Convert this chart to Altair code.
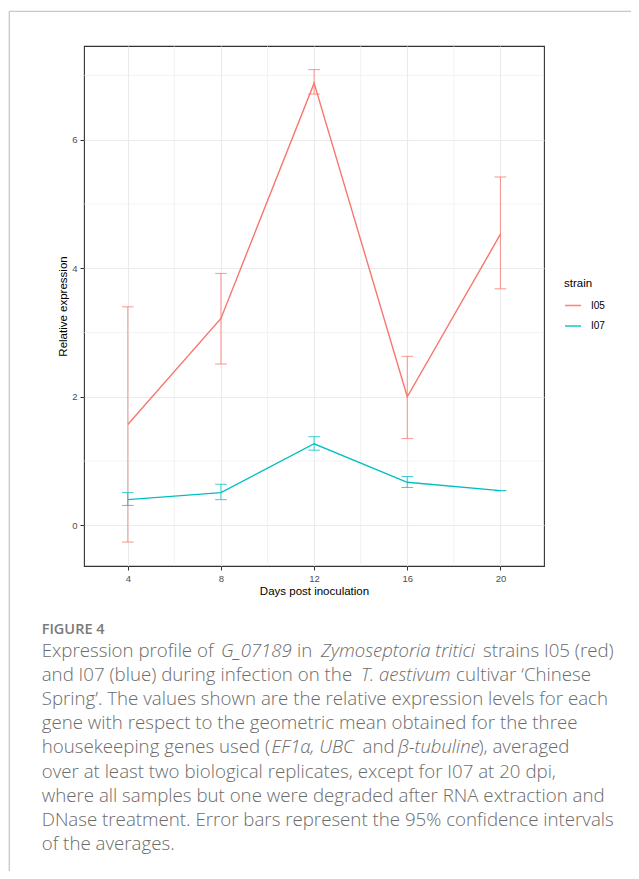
import altair as alt
import pandas as pd

# ---------------- data ----------------
days = [4, 8, 12, 16, 20]
strains = ["I05", "I07"]
i05_mean = [1.57, 3.22, 6.88, 2.00, 4.53]
i05_lo = [-0.26, 2.51, 6.71, 1.35, 3.68]
i05_hi = [3.40, 3.92, 7.09, 2.63, 5.42]
i07_mean = [0.40, 0.51, 1.27, 0.67, 0.54]
i07_lo = [0.31, 0.40, 1.17, 0.59, 0.54]
i07_hi = [0.51, 0.64, 1.38, 0.76, 0.54]
colors = ["#F8766D", "#00BFC4"]

x_major = [4, 8, 12, 16, 20]
x_minor = [6, 10, 14, 18]
y_major = [0, 2, 4, 6]
y_minor = [1, 3, 5, 7]

caption_label = "FIGURE 4"
# (line index, text, italic)
caption_segments = [
    (0, "Expression profile of", False),
    (0, "G_07189", True),
    (0, "in", False),
    (0, "Zymoseptoria tritici", True),
    (0, "strains I05 (red)", False),
    (1, "and I07 (blue) during infection on the", False),
    (1, "T. aestivum", True),
    (1, "cultivar \u2018Chinese", False),
    (2, "Spring\u2019. The values shown are the relative expression levels for each", False),
    (3, "gene with respect to the geometric mean obtained for the three", False),
    (4, "housekeeping genes used (", False),
    (4, "EF1\u03b1, UBC", True),
    (4, "and", False),
    (4, "\u03b2-tubuline", True),
    (4, "), averaged", False),
    (5, "over at least two biological replicates, except for I07 at 20 dpi,", False),
    (6, "where all samples but one were degraded after RNA extraction and", False),
    (7, "DNase treatment. Error bars represent the 95% confidence intervals", False),
    (8, "of the averages.", False),
]
# layout: page x where each segment starts
caption_x = [41.7, 221, 297, 321, 483,
             41.7, 361, 456,
             41.7, 41.7,
             41.7, 271.5, 362.5, 398, 478.5,
             41.7, 41.7, 41.7, 41.7]

# ---------------- layout ----------------
PX0, PY0 = 84, 46          # page position of plot panel
W, H = 460, 520
X_DOM = [2.12, 21.87]
Y_DOM = [-0.632, 7.458]
CAP = 0.25

rows = []
for s, m, lo, hi in [("I05", i05_mean, i05_lo, i05_hi), ("I07", i07_mean, i07_lo, i07_hi)]:
    for d, a, b, c in zip(days, m, lo, hi):
        rows.append(dict(day=d, strain=s, mean=a, lo=b, hi=c, capl=d - CAP, capr=d + CAP))
df = pd.DataFrame(rows)

xs = alt.Scale(domain=X_DOM, nice=False, zero=False)
ys = alt.Scale(domain=Y_DOM, nice=False, zero=False)
AX_FONT = "Liberation Sans"

x_axis = alt.Axis(values=x_major, format="d", grid=True, gridColor="#EBEBEB", gridWidth=1.1,
                  domain=False, ticks=True, tickColor="#333333", tickSize=4, tickWidth=1,
                  labelFont=AX_FONT, labelFontSize=9.5, labelColor="#4D4D4D", labelPadding=3,
                  title="Days post inoculation", titleFont=AX_FONT, titleFontSize=11.5,
                  titleFontWeight="normal", titleColor="#000000", titlePadding=3)
y_axis = alt.Axis(values=y_major, format="d", grid=True, gridColor="#EBEBEB", gridWidth=1.1,
                  domain=False, ticks=True, tickColor="#333333", tickSize=4, tickWidth=1,
                  labelFont=AX_FONT, labelFontSize=9.5, labelColor="#4D4D4D", labelPadding=3,
                  title="Relative expression", titleFont=AX_FONT, titleFontSize=11.5,
                  titleFontWeight="normal", titleColor="#000000", titlePadding=3)

color = alt.Color("strain:N", scale=alt.Scale(domain=strains, range=colors),
                  legend=alt.Legend(orient="none", legendX=480, legendY=232, title="strain",
                                    titleFont=AX_FONT, titleFontSize=11.5, titleFontWeight="normal",
                                    titleColor="#000000", titlePadding=7,
                                    labelFont=AX_FONT, labelFontSize=10, labelColor="#000000",
                                    symbolType="stroke", symbolSize=256, symbolStrokeWidth=1.6,
                                    rowPadding=6.5, labelOffset=9, padding=0))

minor_v = alt.Chart(pd.DataFrame({"v": x_minor})).mark_rule(color="#EBEBEB", strokeWidth=0.6).encode(
    x=alt.X("v:Q", scale=xs, axis=x_axis))
minor_h = alt.Chart(pd.DataFrame({"v": y_minor})).mark_rule(color="#EBEBEB", strokeWidth=0.6).encode(
    y=alt.Y("v:Q", scale=ys, axis=y_axis))

base = alt.Chart(df)
err = base.mark_rule(strokeWidth=0.9, opacity=0.85).encode(
    x=alt.X("day:Q", scale=xs), y=alt.Y("lo:Q", scale=ys), y2="hi:Q", color=color)
cap_lo = base.mark_rule(strokeWidth=0.9, opacity=0.85).encode(
    x=alt.X("capl:Q", scale=xs), x2="capr:Q", y=alt.Y("lo:Q", scale=ys), color=color)
cap_hi = base.mark_rule(strokeWidth=0.9, opacity=0.85).encode(
    x=alt.X("capl:Q", scale=xs), x2="capr:Q", y=alt.Y("hi:Q", scale=ys), color=color)
line = base.mark_line(strokeWidth=1.4).encode(
    x=alt.X("day:Q", scale=xs), y=alt.Y("mean:Q", scale=ys), color=color,
    order="day:Q")

layers = [minor_v, minor_h, err, cap_lo, cap_hi, line]

# outer figure frame (decoration)
FR_X, FR_Y = 9.3 - PX0, 11.3 - PY0
frame_top = alt.Chart(pd.DataFrame({"a": [0]})).mark_rule(color="#C8C8C8", strokeWidth=1.3).encode(
    x=alt.value(FR_X), x2=alt.value(660 - PX0), y=alt.value(FR_Y))
frame_left = alt.Chart(pd.DataFrame({"a": [0]})).mark_rule(color="#C8C8C8", strokeWidth=1.3).encode(
    x=alt.value(FR_X), y=alt.value(FR_Y), y2=alt.value(900 - PY0))
layers += [frame_top, frame_left]

# caption
CAP_FONT = "Open Sans"
layers.append(
    alt.Chart(pd.DataFrame({"t": [caption_label]})).mark_text(
        align="left", baseline="alphabetic", font=CAP_FONT, fontSize=14.5, fontWeight=600,
        color="#7A7A7A").encode(x=alt.value(41.7 - PX0), y=alt.value(633.5 - PY0), text="t:N"))
for (li, txt, it), px in zip(caption_segments, caption_x):
    layers.append(
        alt.Chart(pd.DataFrame({"t": [txt]})).mark_text(
            align="left", baseline="alphabetic", font=CAP_FONT,
            fontSize=18.5 if it else 18.7, fontWeight=300,
            fontStyle="italic" if it else "normal", color="#6B6B6B").encode(
            x=alt.value(px - PX0), y=alt.value(657 + 24.1 * li - PY0), text="t:N"))

chart = alt.layer(*layers).properties(
    width=W, height=H,
    autosize=alt.AutoSizeParams(type="none"),
    padding={"left": PX0 - 8, "top": PY0 - 8, "right": 623 - (PX0 - 8) - W, "bottom": 863 - (PY0 - 8) - H},
    background="white",
).configure_view(stroke="#333333", strokeWidth=1.1)

chart.save("out.html", embed_options={"renderer": "svg", "actions": False})
